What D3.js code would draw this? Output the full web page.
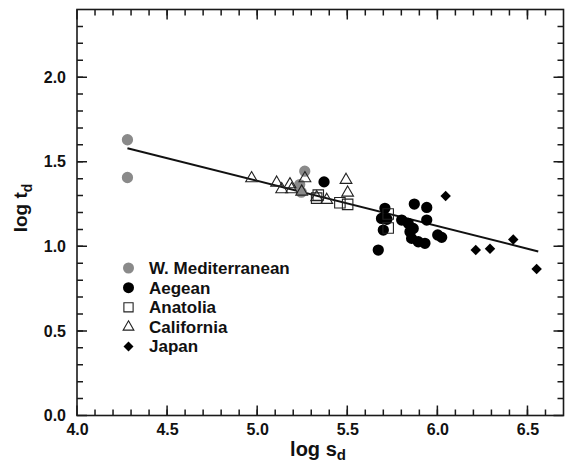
<!DOCTYPE html>
<html>
<head>
<meta charset="utf-8">
<script src="https://cdn.jsdelivr.net/npm/d3@7"></script>
<style>
  body { margin: 0; background: #fff; }
  svg text { font-family: Arial, "Liberation Sans", sans-serif; font-weight: bold; fill: #111; }
</style>
</head>
<body>
<svg id="chart" width="568" height="464"></svg>
<script>
// values (log s_d, log t_d)
const medX = [4.28, 4.28, 5.264, 5.236, 5.245];
const medY = [1.630, 1.407, 1.444, 1.365, 1.320];

const aegX = [5.371, 5.672, 5.709, 5.69, 5.72, 5.70, 5.802, 5.838, 5.872, 5.866, 5.848, 5.857, 5.894, 5.941, 5.941, 5.931, 6.002, 6.024];
const aegY = [1.381, 0.978, 1.225, 1.165, 1.16, 1.096, 1.155, 1.136, 1.250, 1.106, 1.086, 1.047, 1.027, 1.230, 1.155, 1.018, 1.067, 1.053];

const anaX = [5.339, 5.33, 5.459, 5.502, 5.727, 5.727];
const anaY = [1.303, 1.285, 1.258, 1.248, 1.191, 1.108];

const calX = [4.969, 5.108, 5.136, 5.182, 5.191, 5.265, 5.247, 5.330, 5.386, 5.493, 5.502];
const calY = [1.402, 1.376, 1.337, 1.366, 1.337, 1.402, 1.323, 1.290, 1.274, 1.392, 1.317];

const japX = [6.046, 6.213, 6.292, 6.421, 6.551];
const japY = [1.297, 0.978, 0.986, 1.041, 0.866];

// regression line end points
const fitX = [4.28, 6.56];
const fitY = [1.58, 0.97];

const xTicks = [4.0, 4.5, 5.0, 5.5, 6.0, 6.5];
const yTicks = [0.0, 0.5, 1.0, 1.5, 2.0];
const xMinor = d3.range(41, 67).map(d => d / 10);
const yMinor = d3.range(1, 24).map(d => d / 10);

const legendNames = ["W. Mediterranean", "Aegean", "Anatolia", "California", "Japan"];

const svg = d3.select("#chart");
const mLeft = 77, mRight = 563.5, mTop = 9.5, mBottom = 415.5;

const x = d3.scaleLinear().domain([4.0, 6.7]).range([mLeft, mRight]);
const y = d3.scaleLinear().domain([0, 2.4]).range([mBottom, mTop]);

const axisColor = "#1a1a1a";

// tick labels via d3 axes (no tick lines, no domain)
const xAxis = svg.append("g").attr("transform", `translate(0,${mBottom})`)
  .call(d3.axisBottom(x).tickValues(xTicks).tickSize(0).tickPadding(10).tickFormat(d3.format(".1f")));
const yAxis = svg.append("g").attr("transform", `translate(${mLeft},0)`)
  .call(d3.axisLeft(y).tickValues(yTicks).tickSize(0).tickPadding(11).tickFormat(d3.format(".1f")));
[xAxis, yAxis].forEach(g => {
  g.select(".domain").remove();
  g.selectAll(".tick line").remove();
  g.selectAll(".tick text").attr("font-size", 16).attr("fill", "#111");
});
xAxis.selectAll(".tick text").attr("dy", "0.6em");

// inward ticks on all four sides, one path per side
function tickPath(vals, len, side) {
  let d = "";
  vals.forEach(v => {
    if (side === "bottom") d += `M${x(v)},${mBottom}V${mBottom - len}`;
    if (side === "top") d += `M${x(v)},${mTop}V${mTop + len}`;
    if (side === "left") d += `M${mLeft},${y(v)}H${mLeft + len}`;
    if (side === "right") d += `M${mRight},${y(v)}H${mRight - len}`;
  });
  svg.append("path").attr("d", d)
    .attr("fill", "none")
    .style("stroke", axisColor)
    .style("stroke-width", "1.5px");
}
["bottom", "top"].forEach(s => { tickPath(xMinor, 6, s); tickPath(xTicks, 10, s); });
["left", "right"].forEach(s => { tickPath(yMinor, 6, s); tickPath(yTicks, 10, s); });

// frame
svg.append("rect")
  .attr("x", mLeft).attr("y", mTop)
  .attr("width", mRight - mLeft).attr("height", mBottom - mTop)
  .attr("fill", "none").style("stroke", axisColor).style("stroke-width", "1.6px");

// regression line
svg.append("line")
  .attr("x1", x(fitX[0])).attr("y1", y(fitY[0]))
  .attr("x2", x(fitX[1])).attr("y2", y(fitY[1]))
  .attr("stroke", "#111").attr("stroke-width", 2);

const symStyles = [
  { type: d3.symbolCircle, size: 100, fill: "#8a8a8a", stroke: "none", rot: 0 },
  { type: d3.symbolCircle, size: 100, fill: "#000", stroke: "none", rot: 0 },
  { type: d3.symbolSquare, size: 110, fill: "none", stroke: "#222", rot: 0 },
  { type: d3.symbolTriangle, size: 60, fill: "none", stroke: "#222", rot: 0 },
  { type: d3.symbolSquare, size: 55, fill: "#000", stroke: "none", rot: 45 }
];

const series = [
  [medX, medY], [aegX, aegY], [anaX, anaY], [calX, calY], [japX, japY]
];

series.forEach((s, i) => {
  const st = symStyles[i];
  const pts = s[0].map((v, j) => [v, s[1][j]]);
  svg.append("g").selectAll("path")
    .data(pts)
    .join("path")
    .attr("transform", d => `translate(${x(d[0])},${y(d[1])}) rotate(${st.rot})`)
    .attr("d", d3.symbol().type(st.type).size(st.size))
    .attr("fill", st.fill)
    .attr("stroke", st.stroke)
    .attr("stroke-width", 1.1);
});

// legend
const legRows = [268, 287.7, 307.3, 327, 346.5];
const lsize = [95, 95, 85, 50, 50];
legendNames.forEach((name, i) => {
  const st = symStyles[i];
  svg.append("path")
    .attr("transform", `translate(128.5,${legRows[i]}) rotate(${st.rot})`)
    .attr("d", d3.symbol().type(st.type).size(lsize[i]))
    .attr("fill", st.fill)
    .attr("stroke", st.stroke)
    .attr("stroke-width", 1.1);
  svg.append("text")
    .attr("x", 149).attr("y", legRows[i] + 5.8)
    .attr("font-size", 17)
    .text(name);
});

// axis titles
const xt = svg.append("text")
  .attr("x", 318).attr("y", 456)
  .attr("text-anchor", "middle")
  .attr("font-size", 20);
xt.append("tspan").text("log s");
xt.append("tspan").attr("font-size", 15).attr("dy", 4).text("d");

const yt = svg.append("text")
  .attr("transform", "translate(27,208) rotate(-90)")
  .attr("text-anchor", "middle")
  .attr("font-size", 19);
yt.append("tspan").text("log t");
yt.append("tspan").attr("font-size", 14).attr("dy", 5).text("d");
</script>
</body>
</html>
